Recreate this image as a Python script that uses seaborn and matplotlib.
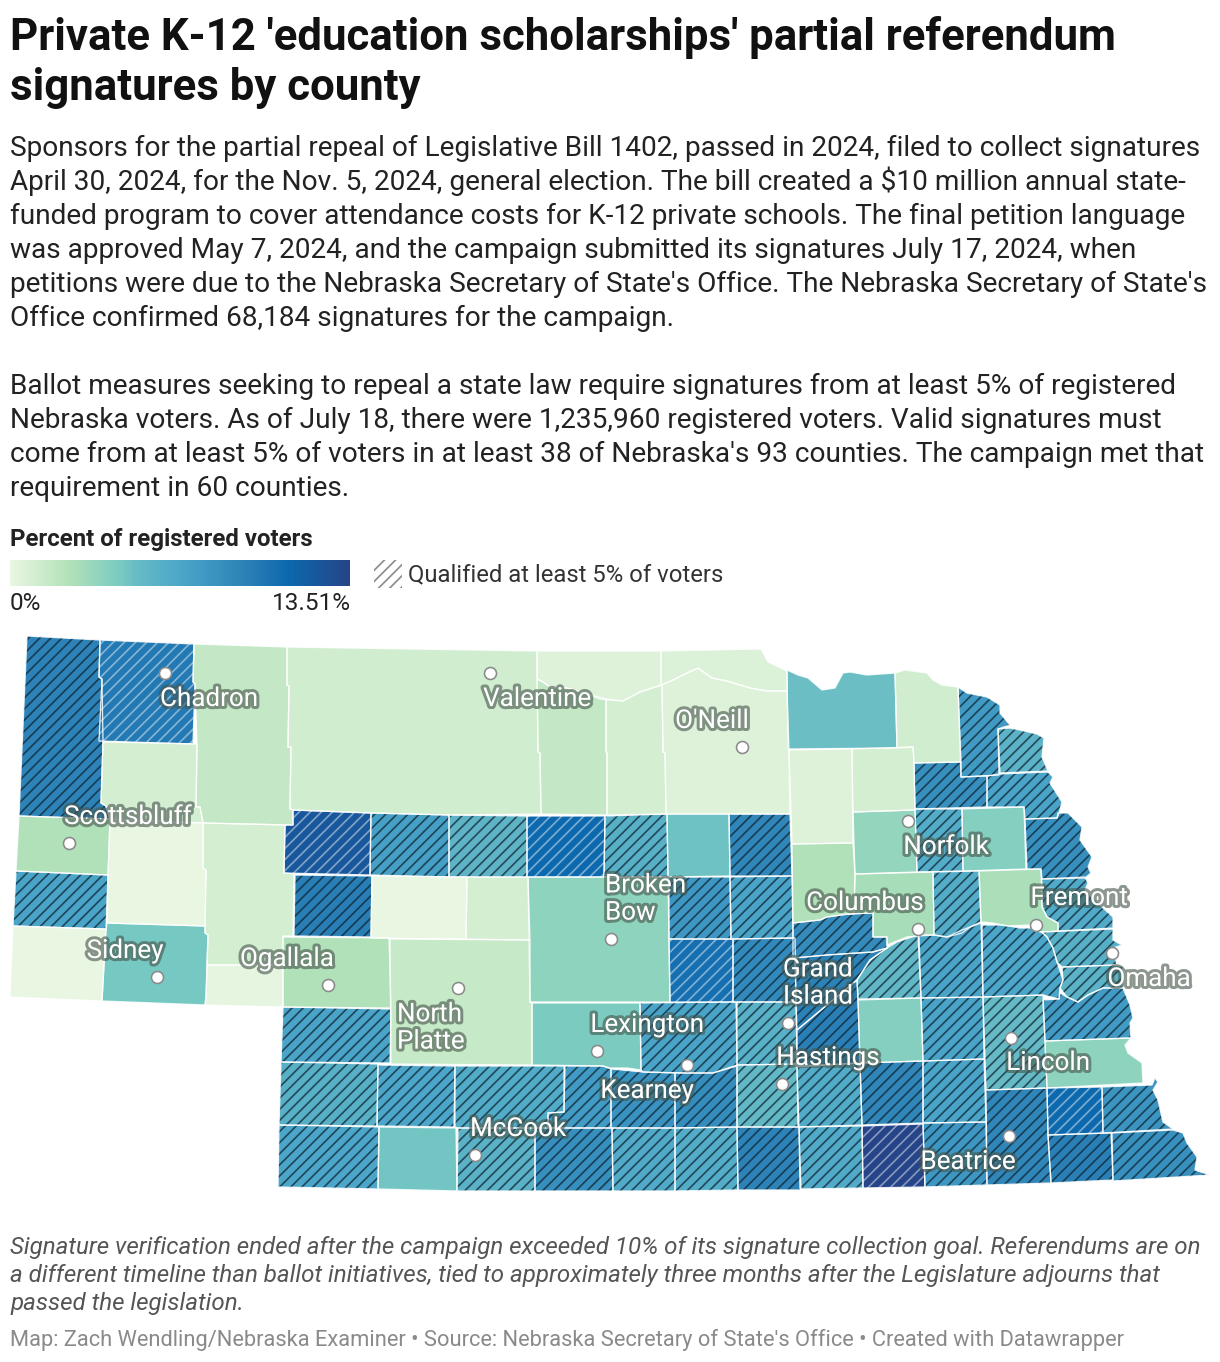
import numpy as np
import matplotlib
matplotlib.use("Agg")
import matplotlib.pyplot as plt
import matplotlib.patheffects as pe
from matplotlib.colors import LinearSegmentedColormap, to_rgb
from matplotlib.patches import Polygon, Rectangle
import pandas as pd
import seaborn as sns

title_lines = ["Private K-12 'education scholarships' partial referendum", "signatures by county"]
body_lines = [
    "Sponsors for the partial repeal of Legislative Bill 1402, passed in 2024, filed to collect signatures",
    "April 30, 2024, for the Nov. 5, 2024, general election. The bill created a $10 million annual state-",
    "funded program to cover attendance costs for K-12 private schools. The final petition language",
    "was approved May 7, 2024, and the campaign submitted its signatures July 17, 2024, when",
    "petitions were due to the Nebraska Secretary of State's Office. The Nebraska Secretary of State's",
    "Office confirmed 68,184 signatures for the campaign.",
    "",
    "Ballot measures seeking to repeal a state law require signatures from at least 5% of registered",
    "Nebraska voters. As of July 18, there were 1,235,960 registered voters. Valid signatures must",
    "come from at least 5% of voters in at least 38 of Nebraska's 93 counties. The campaign met that",
    "requirement in 60 counties.",
]
note_lines = [
    "Signature verification ended after the campaign exceeded 10% of its signature collection goal. Referendums are on",
    "a different timeline than ballot initiatives, tied to approximately three months after the Legislature adjourns that",
    "passed the legislation.",
]
source_line = "Map: Zach Wendling/Nebraska Examiner \u2022 Source: Nebraska Secretary of State's Office \u2022 Created with Datawrapper"

scale_max = 13.51
county_pct = {
    "Sioux": 9.2, "Dawes": 9.9, "Sheridan": 1.6, "Box Butte": 1.0, "Scotts Bluff": 2.4, "Banner": 6.9,
    "Kimball": 0.1, "Morrill": 0.1, "Cheyenne": 4.45, "Garden": 1.0, "Deuel": 0.2, "Cherry": 1.1,
    "Grant": 12.2, "Hooker": 7.2, "Thomas": 5.6, "Blaine": 11.0, "Loup": 6.0, "Garfield": 4.8,
    "Wheeler": 9.0, "Arthur": 9.6, "McPherson": 0.1, "Logan": 0.9, "Keith": 2.4, "Lincoln": 1.5,
    "Keya Paha": 0.5, "Boyd": 0.6, "Brown": 1.6, "Rock": 1.0, "Holt": 0.5, "Knox": 4.9,
    "Cedar": 1.1, "Dixon": 7.6, "Dakota": 5.7, "Wayne": 8.4, "Thurston": 6.9, "Burt": 8.4,
    "Cuming": 4.0, "Stanton": 6.2, "Madison": 3.4, "Pierce": 0.9, "Antelope": 0.5, "Boone": 2.4,
    "Platte": 2.7, "Colfax": 6.2, "Dodge": 2.6, "Washington": 6.4, "Douglas": 6.0, "Sarpy": 5.7,
    "Cass": 7.5, "Otoe": 3.6, "Lancaster": 5.2, "Saunders": 6.8, "Butler": 6.9, "Polk": 5.4,
    "Nance": 8.6, "Merrick": 9.3, "Howard": 8.8, "Sherman": 10.6, "Custer": 3.6, "Valley": 7.8,
    "Greeley": 6.9, "Buffalo": 6.9, "Hall": 5.9, "Dawson": 4.3, "Adams": 5.3, "Kearney": 8.5,
    "Phelps": 8.2, "Gosper": 7.5, "Frontier": 6.3, "Hayes": 6.8, "Chase": 6.0, "Perkins": 6.9,
    "Dundy": 6.8, "Hitchcock": 4.6, "Red Willow": 5.8, "Furnas": 8.4, "Harlan": 6.4, "Franklin": 6.2,
    "Webster": 9.2, "Nuckolls": 6.4, "Thayer": 13.51, "Jefferson": 7.8, "Gage": 9.0, "Johnson": 11.0,
    "Nemaha": 8.0, "Pawnee": 9.4, "Richardson": 8.3, "Saline": 6.9, "Seward": 6.9, "York": 4.0,
    "Fillmore": 9.0, "Clay": 6.3, "Hamilton": 9.4,
}

county_outline = {
    "Sioux": [(27,636),(100,640),(99,677),(102,679),(103,742),(101,803),(106,806),(110,819),(19,816)],
    "Dawes": [(100,640),(194,644),(193,682),(195,684),(193,744),(99,741),(102,679),(99,677)],
    "Sheridan": [(194,644),(287,647),(287,685),(289,686),(288,747),(291,747),(290,809),(293,810),(293,825),(203,823),(200,807),(196,807),(197,744),(195,684),(193,682)],
    "Box Butte": [(103,742),(197,744),(196,807),(200,807),(203,823),(110,819),(106,806),(101,803)],
    "Scotts Bluff": [(19,816),(110,819),(108,875),(16,871)],
    "Banner": [(16,871),(108,875),(106,929),(13,926)],
    "Kimball": [(13,926),(106,929),(102,1001),(10,997)],
    "Morrill": [(110,819),(203,823),(203,868),(206,870),(205,926),(107,923),(108,875)],
    "Cheyenne": [(107,923),(205,926),(205,933),(208,935),(206,997),(205,1005),(102,1001),(106,929)],
    "Garden": [(203,823),(285,825),(284,873),(294,874),(293,936),(283,936),(283,965),(207,965),(208,935),(205,933),(206,870),(203,868)],
    "Deuel": [(207,965),(283,965),(283,1007),(205,1005),(206,997)],
    "Cherry": [(287,647),(537,651),(538,752),(540,753),(541,814),(449,815),(371,813),(293,810),(290,809),(291,747),(288,747),(289,686),(287,685)],
    "Grant": [(293,810),(371,813),(370,875),(284,873),(285,825),(293,825)],
    "Hooker": [(371,813),(449,815),(449,877),(370,875)],
    "Thomas": [(449,815),(527,816),(527,877),(449,877)],
    "Blaine": [(527,816),(605,816),(604,877),(527,877)],
    "Loup": [(605,816),(667,814),(668,877),(604,877)],
    "Garfield": [(667,814),(729,814),(730,876),(668,877)],
    "Wheeler": [(729,814),(790,814),(792,876),(730,876)],
    "Arthur": [(295,875),(372,876),(371,937),(294,936)],
    "McPherson": [(372,876),(467,877),(466,939),(371,938)],
    "Logan": [(467,877),(528,877),(530,940),(466,939)],
    "Keith": [(283,937),(389,938),(391,1008),(283,1007)],
    "Lincoln": [(390,939),(530,940),(530,1002),(532,1003),(532,1065),(391,1064)],
    "Keya Paha": [(537,651),(661,651),(661,685),(640,692),(623,701),(600,699),(587,694),(567,688),(550,687),(543,682),(537,679)],
    "Boyd": [(661,651),(761,649),(768,662),(787,671),(787,691),(767,691),(750,688),(727,681),(712,678),(698,668),(687,673),(673,680),(661,685)],
    "Brown": [(537,679),(543,682),(550,687),(567,688),(587,694),(606,699),(606,752),(607,753),(607,815),(541,814),(540,753),(538,752)],
    "Rock": [(606,699),(623,701),(640,692),(662,685),(663,752),(665,753),(666,814),(607,815),(607,753),(606,752)],
    "Holt": [(662,685),(673,680),(687,673),(698,668),(712,678),(727,681),(750,688),(767,691),(787,691),(789,750),(790,814),(666,814),(665,753),(663,752)],
    "Knox": [(787,670),(798,675),(808,678),(822,690),(835,688),(843,673),(850,672),(867,675),(895,673),(897,748),(788,749)],
    "Cedar": [(895,673),(905,670),(927,673),(933,680),(942,685),(958,687),(961,762),(914,763),(913,747),(897,748)],
    "Dixon": [(958,687),(967,693),(987,697),(1000,705),(1000,713),(1010,725),(998,729),(999,775),(961,777)],
    "Dakota": [(998,729),(1010,728),(1020,730),(1037,734),(1044,738),(1042,757),(1048,771),(1000,773)],
    "Wayne": [(914,763),(961,762),(961,777),(987,776),(987,807),(915,809)],
    "Thurston": [(987,776),(1000,774),(1048,772),(1053,777),(1050,783),(1062,802),(1059,813),(1057,818),(1025,819),(1024,807),(987,807)],
    "Burt": [(1025,819),(1057,818),(1058,813),(1068,813),(1082,827),(1080,840),(1092,857),(1088,867),(1091,873),(1085,878),(1042,879),(1041,869),(1027,869)],
    "Cuming": [(962,809),(1024,807),(1026,869),(963,871)],
    "Stanton": [(915,809),(962,809),(963,871),(917,872)],
    "Madison": [(853,812),(915,810),(917,872),(855,874)],
    "Pierce": [(852,749),(913,747),(914,763),(915,810),(853,812)],
    "Antelope": [(789,750),(852,749),(853,843),(792,844)],
    "Boone": [(792,844),(853,843),(855,874),(854,914),(848,914),(827,917),(820,920),(793,923)],
    "Platte": [(855,874),(933,872),(934,935),(918,936),(907,937),(887,945),(887,937),(873,937),(873,913),(848,914),(854,913)],
    "Colfax": [(933,872),(979,871),(981,922),(970,927),(962,933),(947,937),(934,935)],
    "Dodge": [(979,871),(1041,869),(1042,907),(1047,917),(1058,923),(1058,931),(1040,932),(1030,925),(1007,926),(993,923),(981,922)],
    "Washington": [(1042,879),(1085,877),(1088,883),(1085,890),(1102,907),(1113,917),(1113,928),(1058,931),(1058,923),(1047,917),(1042,907)],
    "Douglas": [(1042,932),(1113,929),(1113,940),(1122,945),(1113,948),(1117,965),(1062,967),(1057,962),(1053,948),(1047,937)],
    "Sarpy": [(1062,967),(1117,965),(1123,967),(1123,988),(1103,988),(1088,995),(1078,1002),(1067,997),(1060,988),(1063,980)],
    "Cass": [(1060,993),(1067,997),(1078,1002),(1088,995),(1103,988),(1123,988),(1130,1005),(1133,1018),(1130,1023),(1131,1038),(1045,1041),(1043,1000),(1059,999)],
    "Otoe": [(1045,1041),(1131,1038),(1125,1045),(1128,1053),(1142,1063),(1143,1083),(1047,1088)],
    "Lancaster": [(983,997),(1043,995),(1045,1041),(1047,1088),(986,1090)],
    "Saunders": [(982,925),(1003,925),(1020,928),(1037,928),(1047,937),(1053,948),(1057,962),(1063,980),(1060,988),(1059,999),(1043,995),(983,997)],
    "Butler": [(919,935),(934,935),(947,937),(962,930),(981,923),(983,997),(921,998)],
    "Polk": [(918,935),(921,998),(858,999),(857,980),(870,960),(887,948),(897,942)],
    "Nance": [(793,923),(820,920),(827,917),(848,914),(873,913),(873,937),(887,937),(887,948),(873,952),(827,955),(793,958)],
    "Merrick": [(795,958),(827,955),(873,952),(887,948),(870,960),(857,980),(797,1030),(796,1002)],
    "Howard": [(733,939),(795,938),(796,1002),(733,1002)],
    "Sherman": [(669,939),(733,939),(733,1002),(670,1002)],
    "Custer": [(528,877),(668,877),(670,1002),(530,1002)],
    "Valley": [(669,877),(730,877),(731,939),(669,939)],
    "Greeley": [(730,877),(792,876),(793,938),(731,939)],
    "Buffalo": [(640,1003),(736,1002),(737,1065),(713,1073),(687,1073),(643,1072),(641,1070)],
    "Hall": [(737,1002),(796,1002),(797,1064),(737,1065)],
    "Dawson": [(532,1003),(640,1003),(641,1070),(627,1068),(610,1068),(603,1066),(532,1065)],
    "Adams": [(737,1065),(797,1064),(798,1127),(737,1127)],
    "Kearney": [(675,1073),(713,1073),(737,1066),(737,1127),(675,1128)],
    "Phelps": [(611,1069),(643,1072),(675,1073),(675,1128),(611,1128)],
    "Gosper": [(565,1066),(603,1066),(611,1069),(611,1128),(548,1128),(548,1113),(564,1112)],
    "Frontier": [(455,1066),(564,1066),(564,1112),(548,1113),(548,1128),(458,1128),(455,1127)],
    "Hayes": [(378,1065),(455,1066),(454,1127),(377,1126)],
    "Chase": [(281,1062),(378,1064),(377,1126),(279,1125)],
    "Perkins": [(283,1007),(391,1009),(390,1063),(281,1062)],
    "Dundy": [(279,1125),(379,1127),(378,1189),(278,1187)],
    "Hitchcock": [(379,1127),(456,1128),(457,1191),(378,1189)],
    "Red Willow": [(458,1128),(535,1128),(535,1191),(457,1191)],
    "Furnas": [(535,1128),(612,1128),(613,1191),(535,1191)],
    "Harlan": [(612,1128),(675,1128),(675,1191),(613,1191)],
    "Franklin": [(675,1128),(737,1127),(738,1190),(675,1191)],
    "Webster": [(737,1127),(799,1127),(800,1190),(738,1190)],
    "Nuckolls": [(799,1127),(862,1126),(863,1188),(801,1189)],
    "Thayer": [(862,1126),(923,1124),(925,1187),(863,1188)],
    "Jefferson": [(923,1123),(986,1122),(987,1185),(925,1187)],
    "Gage": [(986,1090),(1047,1088),(1048,1135),(1051,1183),(987,1185)],
    "Johnson": [(1047,1088),(1102,1087),(1103,1133),(1048,1135)],
    "Nemaha": [(1102,1087),(1152,1085),(1155,1078),(1158,1082),(1153,1090),(1158,1100),(1163,1122),(1173,1129),(1103,1133)],
    "Pawnee": [(1048,1135),(1111,1133),(1113,1180),(1051,1183)],
    "Richardson": [(1112,1133),(1173,1130),(1183,1133),(1187,1143),(1197,1157),(1195,1170),(1210,1175),(1113,1181)],
    "Saline": [(923,1061),(984,1059),(986,1122),(923,1123)],
    "Seward": [(921,998),(983,997),(984,1059),(923,1061)],
    "York": [(858,1000),(921,998),(923,1061),(860,1063)],
    "Fillmore": [(860,1063),(923,1061),(923,1123),(862,1125)],
    "Clay": [(797,1067),(860,1063),(862,1125),(799,1127)],
    "Hamilton": [(797,1030),(857,980),(858,1000),(860,1063),(797,1066)],
}

city_names = ["Chadron", "Valentine", "O'Neill", "Scottsbluff", "Sidney", "Ogallala", "North\nPlatte",
              "Broken\nBow", "Norfolk", "Columbus", "Fremont", "Omaha", "Grand\nIsland", "Lincoln",
              "Hastings", "Kearney", "Lexington", "McCook", "Beatrice"]
city_x = [165, 490, 742, 69, 157, 328, 458, 611, 908, 918, 1036, 1112, 788, 1011, 782, 687, 597, 475, 1009]
city_y = [673, 673, 747, 843, 977, 985, 988, 939, 821, 929, 925, 953, 1023, 1038, 1084, 1065, 1051, 1155, 1136]
label_x = [209, 537, 712, 128, 125, 287, 431, 645, 946, 865, 1079, 1149, 817, 1048, 828, 647, 647, 518, 968]
label_y = [699, 699, 721, 817, 951, 959, 1028, 899, 847, 903, 898, 979, 983, 1063, 1058, 1091, 1025, 1129, 1162]

PX = 72 / 200
sns.set_theme(style="white")
plt.rcParams["font.family"] = ["Roboto", "DejaVu Sans"]
plt.rcParams["hatch.linewidth"] = 1.7 * PX

stops = [(0, "#e9f6e3"), (.17, "#b3e2b8"), (.33, "#76c9c2"), (.37, "#68bcc5"),
         (.5, "#4ba6c9"), (.7, "#2a80b6"), (.82, "#0c68ad"), (1, "#264488")]
cmap = LinearSegmentedColormap.from_list("signatures", stops)

fig = plt.figure(figsize=(6.1, 6.81), dpi=200, facecolor="white")
ax = fig.add_axes([0, 0, 1, 1])
ax.set_xlim(0, 1220)
ax.set_ylim(1362, 0)
ax.axis("off")


def mix(a, b, t):
    return tuple((1 - t) * x + t * y for x, y in zip(to_rgb(a), to_rgb(b)))


HATCH = "/" * 6
for name, pct in county_pct.items():
    xy = county_outline[name]
    fill = cmap(pct / scale_max)[:3]
    if pct >= 5:
        ink = mix(fill, "white", .45) if pct >= 9.8 else mix(fill, "#0d2230", .72)
        ax.add_patch(Polygon(xy, closed=True, facecolor=fill, edgecolor=ink, hatch=HATCH, linewidth=0, zorder=2))
    else:
        ax.add_patch(Polygon(xy, closed=True, facecolor=fill, edgecolor="none", zorder=2))
for name in county_pct:
    ax.add_patch(Polygon(county_outline[name], closed=True, facecolor="none",
                         edgecolor=(1, 1, 1, .85), linewidth=1.3 * PX, joinstyle="round", zorder=3))

cities = pd.DataFrame({"x": city_x, "y": city_y})
sns.scatterplot(data=cities, x="x", y="y", ax=ax, s=(12 * PX) ** 2, color="white",
                edgecolor="#8a8a8a", linewidth=1.6 * PX, zorder=5, legend=False, clip_on=False)
ax.set_xlim(0, 1220)
ax.set_ylim(1362, 0)
ax.axis("off")

halo = [pe.Stroke(linewidth=6 * PX, foreground=(.28, .34, .30, .62)), pe.Normal()]
for name, x, y in zip(city_names, label_x, label_y):
    is_left = "\n" in name
    anchor = {"North\nPlatte": 397, "Broken\nBow": 605, "Grand\nIsland": 783}.get(name, x)
    ax.text(anchor, y, name, color="white", fontsize=26 * PX, ha="left" if is_left else "center",
            va="center", linespacing=1.17, path_effects=halo, zorder=6)

title_baselines = [50, 100]
for y, line in zip(title_baselines, title_lines):
    ax.text(10, y, line, fontsize=43.8 * PX, fontweight="bold", color="#111111", va="baseline")
for i, line in enumerate(body_lines):
    ax.text(10, 156 + 34.02 * i, line, fontsize=28 * PX, color="#222222", va="baseline")

ax.text(10, 546, "Percent of registered voters", fontsize=24 * PX, fontweight="bold", color="#222222", va="baseline")
ax.text(10, 610, "0%", fontsize=24.3 * PX, color="#222222", va="baseline")
ax.text(350.5, 610, "13.51%", fontsize=24.3 * PX, color="#222222", va="baseline", ha="right")
ax.add_patch(Rectangle((374, 560), 28, 28, facecolor="white", edgecolor="#8c8c8c", hatch=HATCH, linewidth=0))
ax.text(408, 581.5, "Qualified at least 5% of voters", fontsize=23.85 * PX, color="#333333", va="baseline")

for i, line in enumerate(note_lines):
    ax.text(10, 1254 + 28 * i, line, fontsize=24.2 * PX, fontstyle="italic", color="#555555", va="baseline")
ax.text(10, 1346, source_line, fontsize=21.96 * PX, color="#8a8a8a", va="baseline")

cax = fig.add_axes([10 / 1220, 1 - 586 / 1362, 340 / 1220, 26 / 1362])
sns.heatmap(np.linspace(0, scale_max, 256)[None, :], cmap=cmap, vmin=0, vmax=scale_max, cbar=False,
            xticklabels=False, yticklabels=False, ax=cax)

fig.savefig("out.png", dpi=200, facecolor="white")
